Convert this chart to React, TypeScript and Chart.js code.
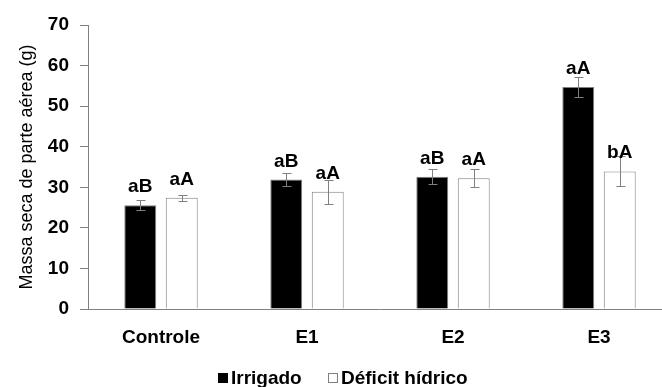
import React, { useEffect, useRef } from "react";
import { Chart, registerables } from "chart.js";

Chart.register(...registerables);

const categories = ["Controle", "E1", "E2", "E3"];
const seriesNames = ["Irrigado", "Déficit hídrico"];
const irrigado = [25.6, 31.9, 32.6, 54.7];
const irrigadoErr = [1.3, 1.5, 1.9, 2.5];
const deficit = [27.4, 28.9, 32.2, 33.9];
const deficitErr = [0.8, 3.0, 2.2, 3.7];
const irrigadoLetters = ["aB", "aB", "aB", "aA"];
const deficitLetters = ["aA", "aA", "aA", "bA"];
const yMin = 0;
const yMax = 70;
const yStep = 10;

const FONT = "'Liberation Sans', Arial, sans-serif";
const GREY = "#808080";

const errors = [irrigadoErr, deficitErr];
const letters = [irrigadoLetters, deficitLetters];

// Error bars, significance letters and the legend row under the axis
const annotate = {
  id: "annotate",
  afterDatasetsDraw(chart: any) {
    const { ctx } = chart;
    const yScale = chart.scales.y;
    ctx.save();
    chart.data.datasets.forEach((ds: any, di: number) => {
      const meta = chart.getDatasetMeta(di);
      meta.data.forEach((bar: any, i: number) => {
        const v = ds.data[i] as number;
        const e = errors[di][i];
        const x = Math.round(bar.x) + 0.5;
        const yt = Math.round(yScale.getPixelForValue(v + e)) + 0.5;
        const yb = Math.round(yScale.getPixelForValue(v - e)) + 0.5;
        ctx.strokeStyle = GREY;
        ctx.lineWidth = 1;
        ctx.beginPath();
        ctx.moveTo(x, yt);
        ctx.lineTo(x, yb);
        ctx.moveTo(x - 4, yt);
        ctx.lineTo(x + 5, yt);
        ctx.moveTo(x - 4, yb);
        ctx.lineTo(x + 5, yb);
        ctx.stroke();

        ctx.fillStyle = "#000";
        ctx.font = `bold 19px ${FONT}`;
        ctx.textAlign = "center";
        ctx.textBaseline = "alphabetic";
        ctx.fillText(letters[di][i], bar.x, bar.y - 13);
      });
    });
    ctx.restore();
  },
  afterDraw(chart: any) {
    const { ctx } = chart;
    ctx.save();
    ctx.font = `bold 19px ${FONT}`;
    ctx.textAlign = "left";
    ctx.textBaseline = "alphabetic";
    ctx.fillStyle = "#000";
    ctx.fillRect(218, 373, 10, 10);
    ctx.fillText(seriesNames[0], 231, 384);
    ctx.strokeStyle = GREY;
    ctx.lineWidth = 1;
    ctx.strokeRect(328.5, 373.5, 9, 9);
    ctx.fillText(seriesNames[1], 341, 384);
    ctx.restore();
  },
};

export default function App() {
  const canvasRef = useRef<HTMLCanvasElement | null>(null);

  useEffect(() => {
    const canvas = canvasRef.current;
    if (!canvas) return;
    const chart = new Chart(canvas, {
      type: "bar",
      data: {
        labels: categories,
        datasets: [
          {
            label: seriesNames[0],
            data: irrigado,
            backgroundColor: "#000000",
            borderColor: GREY,
            borderWidth: 1,
            categoryPercentage: 0.568,
            barPercentage: 0.77,
          },
          {
            label: seriesNames[1],
            data: deficit,
            backgroundColor: "#ffffff",
            borderColor: GREY,
            borderWidth: 1,
            categoryPercentage: 0.568,
            barPercentage: 0.77,
          },
        ],
      },
      options: {
        responsive: false,
        animation: false,
        devicePixelRatio: 1,
        layout: { padding: { top: 25, right: 0, bottom: 0, left: 0 } },
        plugins: {
          legend: { display: false },
          tooltip: { enabled: false },
        },
        scales: {
          x: {
            offset: true,
            grid: { display: true, drawOnChartArea: false, drawTicks: false },
            border: { display: true, color: GREY, width: 1 },
            ticks: {
              color: "#000",
              font: { family: FONT, size: 19, weight: "bold" },
              padding: 17,
            },
            afterFit(scale: any) {
              scale.height = 78;
            },
          },
          y: {
            min: yMin,
            max: yMax,
            grid: {
              drawOnChartArea: false,
              drawTicks: true,
              tickLength: 8,
              tickColor: GREY,
            },
            border: { display: true, color: GREY, width: 1 },
            ticks: {
              stepSize: yStep,
              color: "#000",
              padding: 11,
              font: { family: FONT, size: 19, weight: "bold" },
            },
            title: {
              display: true,
              text: "Massa seca de parte aérea (g)",
              color: "#000",
              font: { family: FONT, size: 18, weight: "normal" },
              padding: { top: 16, bottom: 0 },
            },
            afterFit(scale: any) {
              scale.width = 88;
            },
          },
        },
      },
      plugins: [annotate],
    });
    return () => chart.destroy();
  }, []);

  return (
    <div
      style={{
        position: "fixed",
        left: 0,
        top: 0,
        width: 662,
        height: 387,
        overflow: "hidden",
        background: "#fff",
      }}
    >
      <canvas
        ref={canvasRef}
        width={672}
        height={387}
        style={{ width: 672, height: 387, display: "block" }}
      />
    </div>
  );
}
